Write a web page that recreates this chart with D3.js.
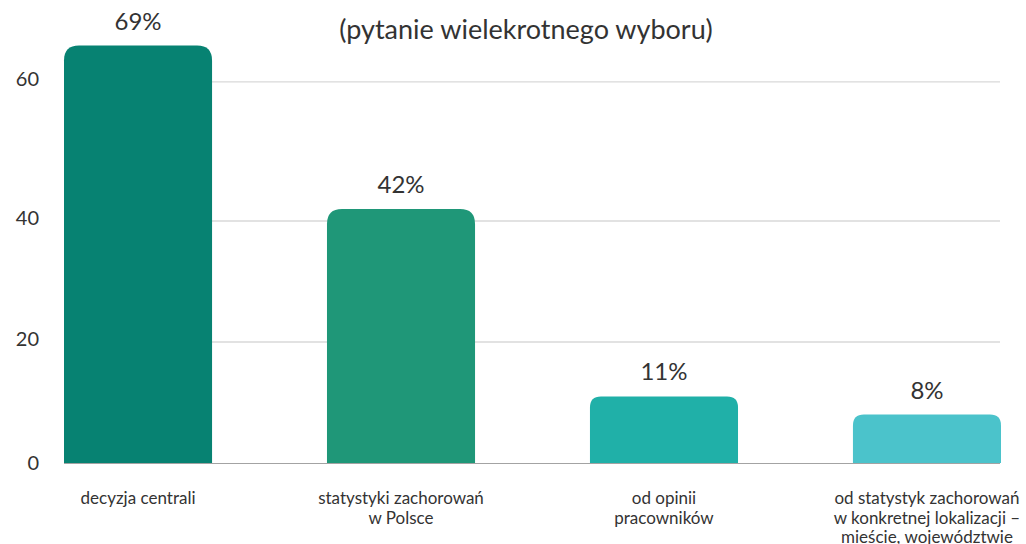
<!DOCTYPE html>
<html>
<head>
<meta charset="utf-8">
<script src="https://cdn.jsdelivr.net/npm/d3@7"></script>
<style>
    body { margin: 0; background: #fff; }
    text { font-family: Lato, "Open Sans", sans-serif; fill: #333; }
</style>
</head>
<body>
<div id="chart"></div>
<script>

// data
let categories = [
    ["decyzja centrali"],
    ["statystyki zachorowań", "w Polsce"],
    ["od opinii", "pracowników"],
    ["od statystyk zachorowań", "w konkretnej lokalizacji –", "mieście, województwie"]
];
let values = [69, 42, 11, 8];
let valueLabels = ["69%", "42%", "11%", "8%"];
let barColors = ["#078272", "#1f9778", "#20b0a8", "#4bc3cb"];
// gridline positions as drawn in the reference, and their labels
let tickValues = [0, 20, 40, 63];
let tickLabels = ["0", "20", "40", "60"];
let subtitle = "(pytanie wielekrotnego wyboru)";

let width = 1026, height = 544;

let svg = d3.select("#chart").append("svg")
    .attr("width", width)
    .attr("height", height);

let x = d3.scaleBand()
    .domain(d3.range(values.length))
    .range([64, 1001])
    .paddingInner(0.437)
    .paddingOuter(0);

let y = d3.scaleLinear()
    .domain([0, 20])
    .range([463, 342]);

// gridlines
svg.append("g")
    .selectAll("line")
    .data(tickValues.slice(1))
    .enter()
    .append("line")
    .attr("x1", 64)
    .attr("x2", 1000)
    .attr("y1", d => y(d))
    .attr("y2", d => y(d))
    .attr("stroke", "#d9d9d9")
    .attr("stroke-width", 1.3);

// y tick labels
svg.append("g")
    .selectAll("text")
    .data(tickValues)
    .enter()
    .append("text")
    .attr("x", 39)
    .attr("y", (d, i) => y(d) - (i === 0 ? 0 : 3))
    .attr("dy", "0.35em")
    .attr("text-anchor", "end")
    .style("font-size", "20px")
    .text((d, i) => tickLabels[i]);

// bars with rounded tops
function barPath(x0, w, yTop, yBase, r) {
    r = Math.min(r, w / 2, yBase - yTop);
    return "M" + x0 + "," + yBase +
        "V" + (yTop + r) +
        "Q" + x0 + "," + yTop + " " + (x0 + r) + "," + yTop +
        "H" + (x0 + w - r) +
        "Q" + (x0 + w) + "," + yTop + " " + (x0 + w) + "," + (yTop + r) +
        "V" + yBase + "Z";
}

svg.append("g")
    .selectAll("path")
    .data(values)
    .enter()
    .append("path")
    .attr("d", (d, i) => barPath(x(i), x.bandwidth(), y(d), y(0), d > 20 ? 15 : 11))
    .attr("fill", (d, i) => barColors[i]);

// baseline
svg.append("line")
    .attr("x1", 64)
    .attr("x2", 1000)
    .attr("y1", y(0) + 0.5)
    .attr("y2", y(0) + 0.5)
    .attr("stroke", "#a3a3a3")
    .attr("stroke-width", 1.2);

// value labels
svg.append("g")
    .selectAll("text")
    .data(values)
    .enter()
    .append("text")
    .attr("x", (d, i) => x(i) + x.bandwidth() / 2)
    .attr("y", d => y(d) - 16)
    .attr("text-anchor", "middle")
    .style("font-size", "24px")
    .text((d, i) => valueLabels[i]);

// category labels
let cat = svg.append("g")
    .selectAll("text")
    .data(categories)
    .enter()
    .append("text")
    .attr("x", (d, i) => x(i) + x.bandwidth() / 2)
    .attr("y", 504)
    .attr("text-anchor", "middle")
    .style("font-size", "17px");

cat.selectAll("tspan")
    .data(d => d)
    .enter()
    .append("tspan")
    .attr("x", function () { return d3.select(this.parentNode).attr("x"); })
    .attr("dy", (d, i) => i === 0 ? 0 : 19.5)
    .text(d => d);

// title (second line, the first is cut off in the picture)
svg.append("text")
    .attr("x", 526)
    .attr("y", 39)
    .attr("text-anchor", "middle")
    .style("font-size", "27px")
    .text(subtitle);

</script>
</body>
</html>
